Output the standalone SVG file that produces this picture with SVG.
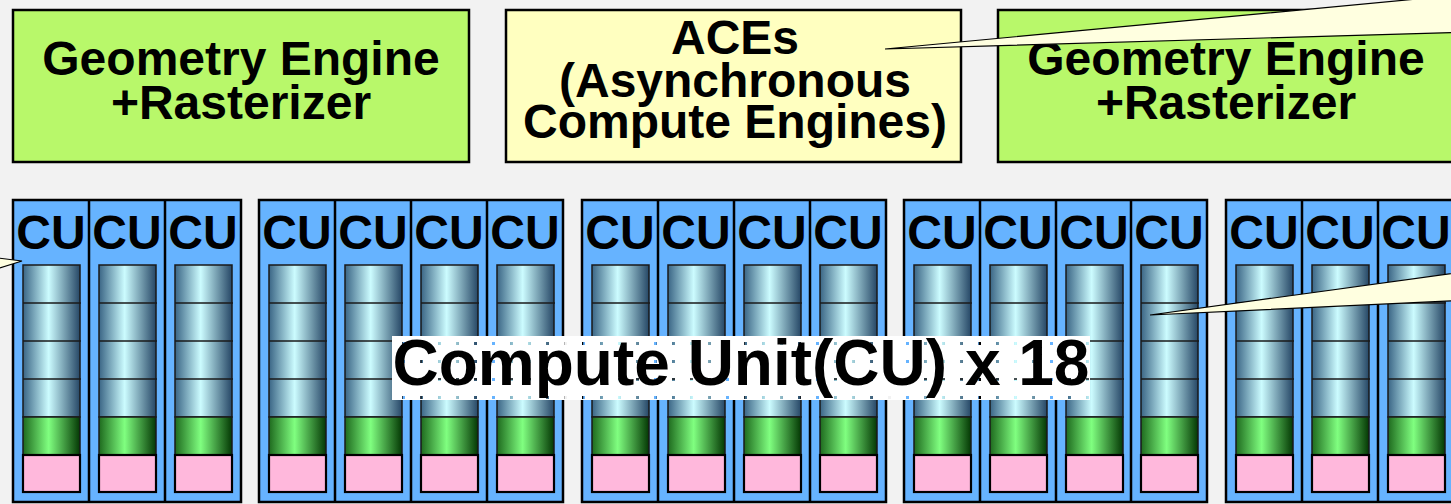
<svg xmlns="http://www.w3.org/2000/svg" xmlns:xlink="http://www.w3.org/1999/xlink" width="1451" height="504" viewBox="0 0 1451 504">
<style>
.box{stroke:#000;stroke-width:2.5}
.geo{fill:#b8f86a}
.ace{fill:#ffffc0}
.lbl{font-family:"Liberation Sans",Arial,sans-serif;font-weight:bold;font-size:48px;fill:#000;text-anchor:middle}
.cu{font-family:"Liberation Sans",Arial,sans-serif;font-weight:bold;font-size:48px;fill:#000;text-anchor:middle}
.grp{fill:#66b3ff;stroke:#000;stroke-width:2.5}
.div{stroke:#000;stroke-width:2.5}
.sep{stroke:#1a1a1a;stroke-width:1.5}
.call{fill:#ffffe0;stroke:#000;stroke-width:1.2;stroke-linejoin:miter}
.big{font-family:"Liberation Sans",Arial,sans-serif;font-weight:bold;font-size:64px;fill:#000;text-anchor:middle}
</style>
<defs>
<linearGradient id="gBlue" x1="0" y1="0" x2="1" y2="0">
<stop offset="0" stop-color="#3a6585"/>
<stop offset="0.45" stop-color="#ccfcff"/>
<stop offset="1" stop-color="#264766"/>
</linearGradient>
<linearGradient id="gGreen" x1="0" y1="0" x2="1" y2="0">
<stop offset="0" stop-color="#1e6a1e"/>
<stop offset="0.45" stop-color="#80ff80"/>
<stop offset="1" stop-color="#043804"/>
</linearGradient>
<pattern id="holePat" x="0" y="0" width="18" height="18" patternUnits="userSpaceOnUse">
<rect x="6" y="0" width="3" height="3" fill="#000"/>
</pattern>
<mask id="holes">
<rect x="392" y="336" width="698" height="64" fill="#fff"/>
<rect x="392" y="336" width="698" height="64" fill="url(#holePat)"/>
</mask>
<g id="cuCell">
<text x="38" y="249" class="cu">CU</text>
<rect x="10" y="265" width="57" height="152" fill="url(#gBlue)" stroke="#1a1a1a" stroke-width="1.5"/>
<line x1="10" y1="303" x2="68" y2="303" class="sep"/>
<line x1="10" y1="341" x2="68" y2="341" class="sep"/>
<line x1="10" y1="379" x2="68" y2="379" class="sep"/>
<rect x="10" y="417" width="57" height="38" fill="url(#gGreen)" stroke="#1a1a1a" stroke-width="1.5"/>
<rect x="10" y="455" width="57" height="37" fill="#ffb8dc" stroke="#000" stroke-width="2.2"/>
</g>
</defs>
<rect x="0" y="0" width="1451" height="504" fill="#f2f2f2"/>

<g id="geometry-left">
<rect x="13" y="10" width="456" height="152" class="box geo"/>
<text x="241" y="75" class="lbl">Geometry Engine</text>
<text x="241" y="119" class="lbl">+Rasterizer</text>
</g>

<g id="aces">
<rect x="506" y="10" width="455" height="152" class="box ace"/>
<text x="735" y="54" class="lbl">ACEs</text>
<text x="735" y="97" class="lbl">(Asynchronous</text>
<text x="735" y="138" class="lbl">Compute Engines)</text>
</g>

<g id="geometry-right">
<rect x="998" y="10" width="456" height="152" class="box geo"/>
<text x="1226" y="75" class="lbl">Geometry Engine</text>
<text x="1226" y="119" class="lbl">+Rasterizer</text>
</g>

<g id="cu-group-1">
<rect x="13" y="200" width="228" height="302" class="grp"/>
<line x1="89" y1="200" x2="89" y2="502" class="div"/>
<line x1="165" y1="200" x2="165" y2="502" class="div"/>
<use xlink:href="#cuCell" href="#cuCell" x="13"/>
<use xlink:href="#cuCell" href="#cuCell" x="89"/>
<use xlink:href="#cuCell" href="#cuCell" x="165"/>
</g>

<g id="cu-group-2">
<rect x="259" y="200" width="304" height="302" class="grp"/>
<line x1="335" y1="200" x2="335" y2="502" class="div"/>
<line x1="411" y1="200" x2="411" y2="502" class="div"/>
<line x1="487" y1="200" x2="487" y2="502" class="div"/>
<use xlink:href="#cuCell" href="#cuCell" x="259"/>
<use xlink:href="#cuCell" href="#cuCell" x="335"/>
<use xlink:href="#cuCell" href="#cuCell" x="411"/>
<use xlink:href="#cuCell" href="#cuCell" x="487"/>
</g>

<g id="cu-group-3">
<rect x="582" y="200" width="304" height="302" class="grp"/>
<line x1="658" y1="200" x2="658" y2="502" class="div"/>
<line x1="734" y1="200" x2="734" y2="502" class="div"/>
<line x1="810" y1="200" x2="810" y2="502" class="div"/>
<use xlink:href="#cuCell" href="#cuCell" x="582"/>
<use xlink:href="#cuCell" href="#cuCell" x="658"/>
<use xlink:href="#cuCell" href="#cuCell" x="734"/>
<use xlink:href="#cuCell" href="#cuCell" x="810"/>
</g>

<g id="cu-group-4">
<rect x="904" y="200" width="303" height="302" class="grp"/>
<line x1="980" y1="200" x2="980" y2="502" class="div"/>
<line x1="1056" y1="200" x2="1056" y2="502" class="div"/>
<line x1="1131" y1="200" x2="1131" y2="502" class="div"/>
<use xlink:href="#cuCell" href="#cuCell" x="904"/>
<use xlink:href="#cuCell" href="#cuCell" x="980"/>
<use xlink:href="#cuCell" href="#cuCell" x="1056"/>
<use xlink:href="#cuCell" href="#cuCell" x="1131"/>
</g>

<g id="cu-group-5">
<rect x="1226" y="200" width="304" height="302" class="grp"/>
<line x1="1302" y1="200" x2="1302" y2="502" class="div"/>
<line x1="1378" y1="200" x2="1378" y2="502" class="div"/>
<use xlink:href="#cuCell" href="#cuCell" x="1226"/>
<use xlink:href="#cuCell" href="#cuCell" x="1302"/>
<use xlink:href="#cuCell" href="#cuCell" x="1378"/>
</g>

<g id="cu-label">
<rect x="392" y="336" width="698" height="64" fill="#fff" mask="url(#holes)"/>
<text x="741" y="385" class="big">Compute Unit(CU) x 18</text>
</g>

<g id="connectors">
<polygon points="885,49 1470,-6 1470,32" class="call"/>
<polygon points="1150,315 1470,271 1470,300" class="call"/>
<polygon points="22,261 -10,257 -10,271" class="call"/>
</g>
</svg>
